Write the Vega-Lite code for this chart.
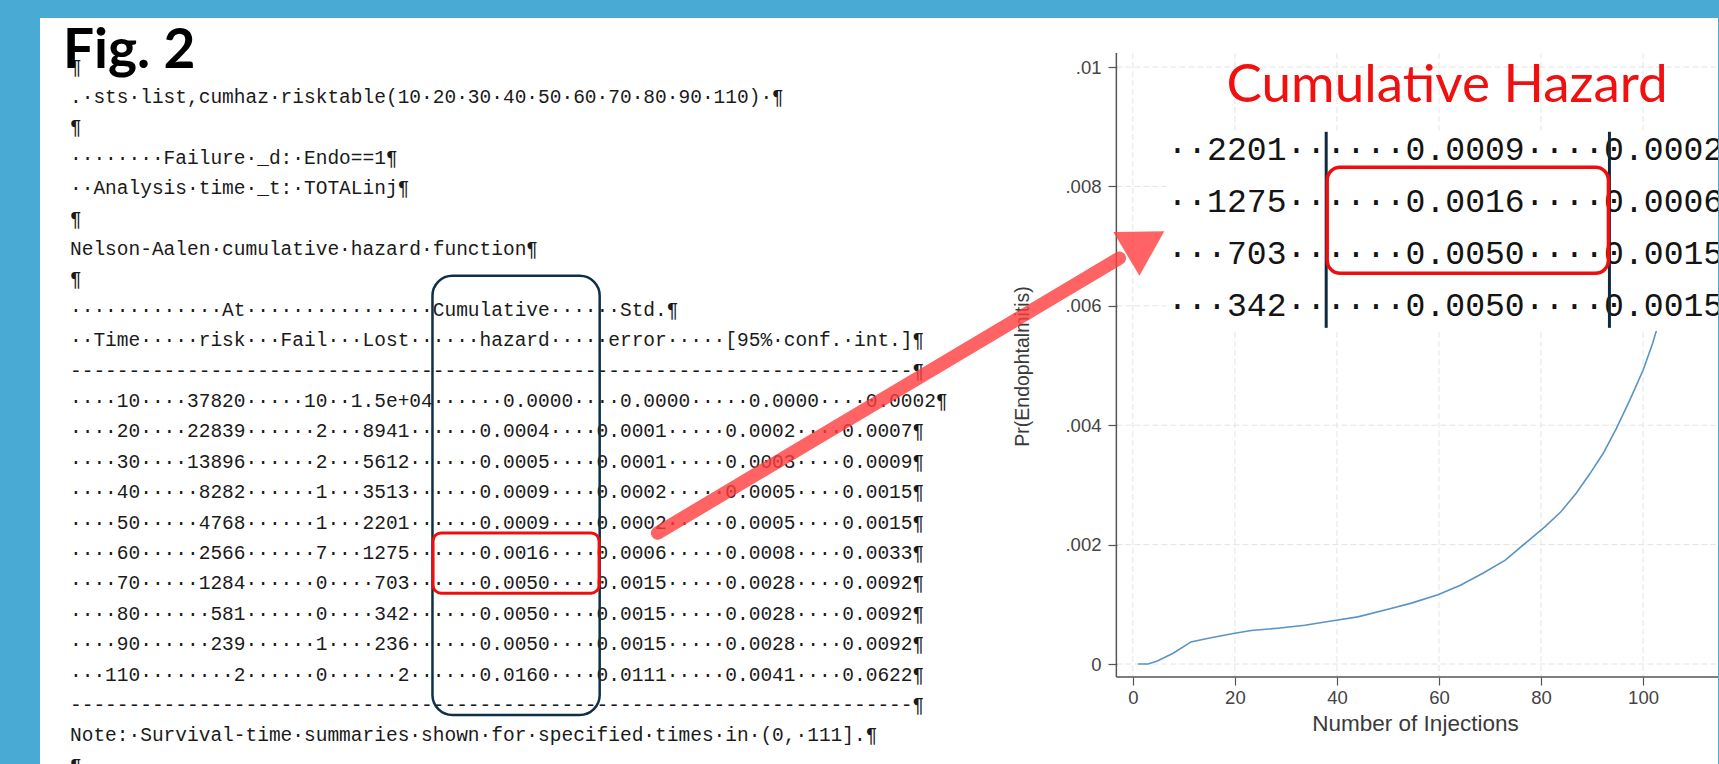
{
  "$schema": "https://vega.github.io/schema/vega-lite/v6.json",
  "width": 1719,
  "height": 764,
  "autosize": {"type": "fit", "contains": "padding"},
  "padding": {"left": 40, "top": 18, "right": 0, "bottom": 0},
  "background": "#49ABD3",
  "config": {
    "view": {"fill": "#ffffff", "stroke": null},
    "font": "Liberation Sans",
    "axis": {"labelFont": "Liberation Sans", "titleFont": "Liberation Sans"}
  },
  "datasets": {
    "stata": [
      {"line": 0, "text": "¶"},
      {"line": 1, "text": ".·sts·list,cumhaz·risktable(10·20·30·40·50·60·70·80·90·110)·¶"},
      {"line": 2, "text": "¶"},
      {"line": 3, "text": "········Failure·_d:·Endo==1¶"},
      {"line": 4, "text": "··Analysis·time·_t:·TOTALinj¶"},
      {"line": 5, "text": "¶"},
      {"line": 6, "text": "Nelson-Aalen·cumulative·hazard·function¶"},
      {"line": 7, "text": "¶"},
      {"line": 8, "text": "·············At················Cumulative······Std.¶"},
      {"line": 9, "text": "··Time·····risk···Fail···Lost······hazard·····error·····[95%·conf.·int.]¶"},
      {"line": 10, "text": "------------------------------------------------------------------------¶"},
      {"line": 11, "text": "····10····37820·····10··1.5e+04······0.0000····0.0000·····0.0000····0.0002¶"},
      {"line": 12, "text": "····20····22839······2···8941······0.0004····0.0001·····0.0002····0.0007¶"},
      {"line": 13, "text": "····30····13896······2···5612······0.0005····0.0001·····0.0003····0.0009¶"},
      {"line": 14, "text": "····40·····8282······1···3513······0.0009····0.0002·····0.0005····0.0015¶"},
      {"line": 15, "text": "····50·····4768······1···2201······0.0009····0.0002·····0.0005····0.0015¶"},
      {"line": 16, "text": "····60·····2566······7···1275······0.0016····0.0006·····0.0008····0.0033¶"},
      {"line": 17, "text": "····70·····1284······0····703······0.0050····0.0015·····0.0028····0.0092¶"},
      {"line": 18, "text": "····80······581······0····342······0.0050····0.0015·····0.0028····0.0092¶"},
      {"line": 19, "text": "····90······239······1····236······0.0050····0.0015·····0.0028····0.0092¶"},
      {"line": 20, "text": "···110········2······0······2······0.0160····0.0111·····0.0041····0.0622¶"},
      {"line": 21, "text": "------------------------------------------------------------------------¶"},
      {"line": 22, "text": "Note:·Survival-time·summaries·shown·for·specified·times·in·(0,·111].¶"},
      {"line": 23, "text": "¶"}
    ],
    "zoomed": [
      {"line": 15, "text": "··2201······0.0009····0.0002"},
      {"line": 16, "text": "··1275······0.0016····0.0006"},
      {"line": 17, "text": "···703······0.0050····0.0015"},
      {"line": 18, "text": "···342······0.0050····0.0015"}
    ],
    "curve": [
      {"injections": 1, "cumhaz": 0},
      {"injections": 3, "cumhaz": 0},
      {"injections": 4.8, "cumhaz": 0.00005},
      {"injections": 7.9, "cumhaz": 0.00018},
      {"injections": 11.4, "cumhaz": 0.00037},
      {"injections": 12.5, "cumhaz": 0.00039},
      {"injections": 15.3, "cumhaz": 0.00044},
      {"injections": 19.7, "cumhaz": 0.00051},
      {"injections": 23.2, "cumhaz": 0.00056},
      {"injections": 28.4, "cumhaz": 0.0006},
      {"injections": 33.7, "cumhaz": 0.00065},
      {"injections": 38.9, "cumhaz": 0.00072},
      {"injections": 44.1, "cumhaz": 0.00079},
      {"injections": 50.2, "cumhaz": 0.00092},
      {"injections": 54.6, "cumhaz": 0.00102},
      {"injections": 59.8, "cumhaz": 0.00116},
      {"injections": 64.2, "cumhaz": 0.00132},
      {"injections": 68.6, "cumhaz": 0.00152},
      {"injections": 73.0, "cumhaz": 0.00174},
      {"injections": 77.3, "cumhaz": 0.00205},
      {"injections": 80.8, "cumhaz": 0.0023},
      {"injections": 83.9, "cumhaz": 0.00255},
      {"injections": 86.9, "cumhaz": 0.00286},
      {"injections": 89.6, "cumhaz": 0.00319},
      {"injections": 92.2, "cumhaz": 0.00353},
      {"injections": 94.8, "cumhaz": 0.00395},
      {"injections": 97.4, "cumhaz": 0.00442},
      {"injections": 100.0, "cumhaz": 0.00492},
      {"injections": 101.8, "cumhaz": 0.00535},
      {"injections": 103.2, "cumhaz": 0.00575},
      {"injections": 104.6, "cumhaz": 0.0062}
    ]
  },
  "resolve": {"scale": {"x": "independent", "y": "independent"}},
  "layer": [
    {
      "data": {"name": "stata"},
      "mark": {"type": "text", "align": "left", "baseline": "middle", "font": "Liberation Mono", "fontSize": 19.5, "color": "#1a1a1a", "clip": true},
      "encoding": {
        "x": {"datum": 0, "type": "quantitative", "scale": {"domain": [-2.564, 140.94], "nice": false, "zero": false}, "axis": null},
        "y": {"field": "line", "type": "quantitative", "scale": {"domain": [-1.599, 22.941], "reverse": true, "nice": false, "zero": false}, "axis": null},
        "text": {"field": "text"}
      }
    },
    {
      "data": {"values": [{}]},
      "mark": {"type": "rect", "filled": false, "color": "#0e2f48", "strokeWidth": 2.5, "cornerRadius": 20},
      "encoding": {
        "x": {"datum": 31.0, "type": "quantitative", "scale": {"domain": [-2.564, 140.94], "nice": false, "zero": false}, "axis": null},
        "x2": {"datum": 45.3},
        "y": {"datum": 6.88, "type": "quantitative", "scale": {"domain": [-1.599, 22.941], "reverse": true, "nice": false, "zero": false}, "axis": null},
        "y2": {"datum": 21.33}
      }
    },
    {
      "data": {"values": [{}]},
      "mark": {"type": "rect", "filled": false, "color": "#f00d0d", "strokeWidth": 3, "cornerRadius": 8},
      "encoding": {
        "x": {"datum": 31.05, "type": "quantitative", "scale": {"domain": [-2.564, 140.94], "nice": false, "zero": false}, "axis": null},
        "x2": {"datum": 45.25},
        "y": {"datum": 15.34, "type": "quantitative", "scale": {"domain": [-1.599, 22.941], "reverse": true, "nice": false, "zero": false}, "axis": null},
        "y2": {"datum": 17.32}
      }
    },
    {
      "data": {"values": [{}]},
      "mark": {"type": "text", "text": "Fig. 2", "align": "left", "baseline": "alphabetic", "font": "Lato", "fontWeight": "bold", "fontSize": 55, "color": "#000000"},
      "encoding": {
        "x": {"datum": -0.6, "type": "quantitative", "scale": {"domain": [-2.564, 140.94], "nice": false, "zero": false}, "axis": null},
        "y": {"datum": 0.03, "type": "quantitative", "scale": {"domain": [-1.599, 22.941], "reverse": true, "nice": false, "zero": false}, "axis": null}
      }
    },
    {
      "data": {"values": [{"v": 0}, {"v": 20}, {"v": 40}, {"v": 60}, {"v": 80}, {"v": 100}]},
      "mark": {"type": "rule", "color": "#e4e4e4", "strokeWidth": 1, "strokeDash": [6, 3]},
      "encoding": {
        "x": {"field": "v", "type": "quantitative", "scale": {"domain": [-214.2, 114.69], "nice": false, "zero": false}, "axis": null},
        "y": {"datum": 0.010235, "type": "quantitative", "scale": {"domain": [-0.001675, 0.010821], "nice": false, "zero": false}, "axis": null},
        "y2": {"datum": -0.000218}
      }
    },
    {
      "data": {"values": [{"v": 0}, {"v": 0.002}, {"v": 0.004}, {"v": 0.006}, {"v": 0.008}, {"v": 0.01}]},
      "mark": {"type": "rule", "color": "#e4e4e4", "strokeWidth": 1, "strokeDash": [6, 3]},
      "encoding": {
        "y": {"field": "v", "type": "quantitative", "scale": {"domain": [-0.001675, 0.010821], "nice": false, "zero": false}, "axis": null},
        "x": {"datum": -3.23, "type": "quantitative", "scale": {"domain": [-214.2, 114.69], "nice": false, "zero": false}, "axis": null},
        "x2": {"datum": 114.3}
      }
    },
    {
      "data": {"values": [{}]},
      "mark": {"type": "rule", "color": "#555555", "strokeWidth": 1.5},
      "encoding": {
        "x": {"datum": -3.23, "type": "quantitative", "scale": {"domain": [-214.2, 114.69], "nice": false, "zero": false}, "axis": null},
        "y": {"datum": 0.010235, "type": "quantitative", "scale": {"domain": [-0.001675, 0.010821], "nice": false, "zero": false}, "axis": null},
        "y2": {"datum": -0.000218}
      }
    },
    {
      "data": {"values": [{}]},
      "mark": {"type": "rule", "color": "#555555", "strokeWidth": 1.5},
      "encoding": {
        "x": {"datum": -3.23, "type": "quantitative", "scale": {"domain": [-214.2, 114.69], "nice": false, "zero": false}, "axis": null},
        "x2": {"datum": 114.69},
        "y": {"datum": -0.000218, "type": "quantitative", "scale": {"domain": [-0.001675, 0.010821], "nice": false, "zero": false}, "axis": null}
      }
    },
    {
      "data": {"name": "curve"},
      "mark": {"type": "line", "color": "#5a93c6", "strokeWidth": 1.6},
      "encoding": {
        "x": {
          "field": "injections", "type": "quantitative",
          "scale": {"domain": [-214.2, 114.69], "nice": false, "zero": false},
          "axis": {
            "orient": "bottom", "offset": -87, "values": [0, 20, 40, 60, 80, 100],
            "domain": false, "grid": false, "tickSize": 8, "tickColor": "#555555", "tickWidth": 1.2,
            "labelFontSize": 18.5, "labelColor": "#444444", "labelPadding": 3, "labelFlush": false,
            "title": "Number of Injections", "titleFontSize": 22.5, "titleFontWeight": "normal", "titleColor": "#3a3a3a",
            "titleX": 1375, "titleY": 46, "titleBaseline": "middle", "titleAlign": "center"
          }
        },
        "y": {
          "field": "cumhaz", "type": "quantitative",
          "scale": {"domain": [-0.001675, 0.010821], "nice": false, "zero": false},
          "axis": {
            "orient": "left", "offset": -1077, "values": [0, 0.002, 0.004, 0.006, 0.008, 0.01],
            "labelExpr": "replace(format(datum.value, '.3~f'), '0.', '.')",
            "domain": false, "grid": false, "tickSize": 9, "tickColor": "#555555", "tickWidth": 1.2,
            "labelFontSize": 18.5, "labelColor": "#444444", "labelPadding": 7, "labelFlush": false,
            "title": "Pr(Endophtalmitis)", "titleFontSize": 19.5, "titleFontWeight": "normal", "titleColor": "#3a3a3a",
            "titleX": -95, "titleY": 348, "titleAngle": 270, "titleBaseline": "middle", "titleAlign": "center"
          }
        }
      }
    },
    {
      "data": {"values": [{}]},
      "mark": {"type": "text", "text": "Cumulative Hazard", "align": "center", "baseline": "alphabetic", "font": "Lato", "fontSize": 53, "color": "#f01010"},
      "encoding": {
        "x": {"datum": 61.6, "type": "quantitative", "scale": {"domain": [-214.2, 114.69], "nice": false, "zero": false}, "axis": null},
        "y": {"datum": 0.009414, "type": "quantitative", "scale": {"domain": [-0.001675, 0.010821], "nice": false, "zero": false}, "axis": null}
      }
    },
    {
      "data": {"values": [{}]},
      "mark": {"type": "rect", "color": "#ffffff", "clip": true},
      "encoding": {
        "x": {"datum": 22.94, "type": "quantitative", "scale": {"domain": [-33.8, 50.74], "nice": false, "zero": false}, "axis": null},
        "x2": {"datum": 51.5},
        "y": {"datum": 14.63, "type": "quantitative", "scale": {"domain": [12.4615, 26.808], "reverse": true, "nice": false, "zero": false}, "axis": null},
        "y2": {"datum": 18.48}
      }
    },
    {
      "data": {"name": "zoomed"},
      "mark": {"type": "text", "align": "left", "baseline": "middle", "font": "Liberation Mono", "fontSize": 33.1, "color": "#141414", "clip": true},
      "encoding": {
        "x": {"datum": 23, "type": "quantitative", "scale": {"domain": [-33.8, 50.74], "nice": false, "zero": false}, "axis": null},
        "y": {"field": "line", "type": "quantitative", "scale": {"domain": [12.4615, 26.808], "reverse": true, "nice": false, "zero": false}, "axis": null},
        "text": {"field": "text"}
      }
    },
    {
      "data": {"values": [{}]},
      "mark": {"type": "rule", "color": "#0e2a3e", "strokeWidth": 3},
      "encoding": {
        "x": {"datum": 31.0, "type": "quantitative", "scale": {"domain": [-33.8, 50.74], "nice": false, "zero": false}, "axis": null},
        "y": {"datum": 14.65, "type": "quantitative", "scale": {"domain": [12.4615, 26.808], "reverse": true, "nice": false, "zero": false}, "axis": null},
        "y2": {"datum": 18.42}
      }
    },
    {
      "data": {"values": [{}]},
      "mark": {"type": "rule", "color": "#0e2a3e", "strokeWidth": 3},
      "encoding": {
        "x": {"datum": 45.27, "type": "quantitative", "scale": {"domain": [-33.8, 50.74], "nice": false, "zero": false}, "axis": null},
        "y": {"datum": 14.65, "type": "quantitative", "scale": {"domain": [12.4615, 26.808], "reverse": true, "nice": false, "zero": false}, "axis": null},
        "y2": {"datum": 18.42}
      }
    },
    {
      "data": {"values": [{}]},
      "mark": {"type": "rect", "filled": false, "color": "#f00d0d", "strokeWidth": 3.5, "cornerRadius": 13},
      "encoding": {
        "x": {"datum": 31.05, "type": "quantitative", "scale": {"domain": [-33.8, 50.74], "nice": false, "zero": false}, "axis": null},
        "x2": {"datum": 45.22},
        "y": {"datum": 15.33, "type": "quantitative", "scale": {"domain": [12.4615, 26.808], "reverse": true, "nice": false, "zero": false}, "axis": null},
        "y2": {"datum": 17.37}
      }
    },
    {
      "data": {"values": [{}]},
      "mark": {"type": "rule", "color": "#ff3c3c", "opacity": 0.8, "strokeWidth": 13.5, "strokeCap": "round"},
      "encoding": {
        "x": {"datum": -93.14, "type": "quantitative", "scale": {"domain": [-214.2, 114.69], "nice": false, "zero": false}, "axis": null},
        "y": {"datum": 0.0021943, "type": "quantitative", "scale": {"domain": [-0.001675, 0.010821], "nice": false, "zero": false}, "axis": null},
        "x2": {"datum": -2.66},
        "y2": {"datum": 0.0067956}
      }
    },
    {
      "data": {"values": [{}]},
      "mark": {"type": "point", "shape": "triangle-right", "angle": 329.2, "size": 2600, "filled": true, "color": "#ff3c3c", "opacity": 0.8, "strokeWidth": 0},
      "encoding": {
        "x": {"datum": 2.449, "type": "quantitative", "scale": {"domain": [-214.2, 114.69], "nice": false, "zero": false}, "axis": null},
        "y": {"datum": 0.0070603, "type": "quantitative", "scale": {"domain": [-0.001675, 0.010821], "nice": false, "zero": false}, "axis": null}
      }
    }
  ]
}
